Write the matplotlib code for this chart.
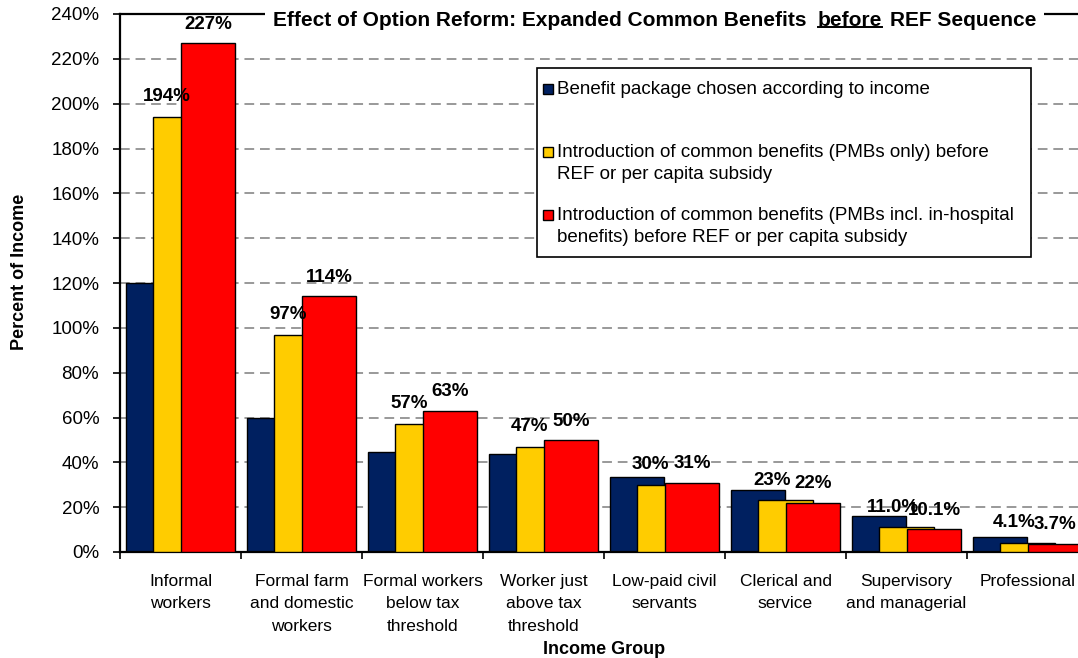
import numpy as np
import matplotlib
matplotlib.use("Agg")
import matplotlib.pyplot as plt
from matplotlib.patches import Rectangle
from matplotlib.lines import Line2D
from matplotlib.text import Annotation

plt.rcParams['font.family'] = ['Liberation Sans', 'DejaVu Sans']

# data
groups = ["Informal\nworkers", "Formal farm\nand domestic\nworkers",
          "Formal workers\nbelow tax\nthreshold", "Worker just\nabove tax\nthreshold",
          "Low-paid civil\nservants", "Clerical and\nservice",
          "Supervisory\nand managerial", "Professional"]
by_income = [120, 60, 44.5, 43.5, 33.5, 27.5, 16.0, 6.6]
pmb_only = [194, 97, 57, 47, 30, 23, 11.0, 4.1]
pmb_hosp = [227, 114, 63, 50, 31, 22, 10.1, 3.7]
series_names = ["Benefit package chosen according to income",
                "Introduction of common benefits (PMBs only) before\nREF or per capita subsidy",
                "Introduction of common benefits (PMBs incl. in-hospital\nbenefits) before REF or per capita subsidy"]
colors = ["#002060", "#FFCC00", "#FF0000"]

W, H = 1078, 658
fig = plt.figure(figsize=(W / 100, H / 100), dpi=100)


def px(x, y):
    # pixel position (from top-left) -> figure fraction
    return x / W, 1 - y / H


ax = fig.add_axes([120 / W, (H - 552) / H, 968 / W, 538 / H])

x = np.arange(len(groups))
step, bw = 0.227, 0.45
for k, (vals, c) in enumerate(zip([by_income, pmb_only, pmb_hosp], colors)):
    ax.bar(x + (k - 1) * step, vals, bw, color=c, edgecolor="black", linewidth=1, zorder=2 + k)


def fmt(v):
    return f"{v:.1f}%" if v < 20 else f"{v:.0f}%"


for i in range(len(groups)):
    ax.annotate(fmt(pmb_only[i]), (x[i] - step / 2, pmb_only[i]), xytext=(0, 8.5),
                textcoords="offset points", ha="center", va="bottom",
                fontsize=13.5, fontweight="bold", zorder=10)
    ax.annotate(fmt(pmb_hosp[i]), (x[i] + step, pmb_hosp[i]), xytext=(0, 7.5),
                textcoords="offset points", ha="center", va="bottom",
                fontsize=13.5, fontweight="bold", zorder=10)

ax.set_xlim(-0.5, len(groups) - 0.5)
ax.set_ylim(0, 240)
ax.set_yticks(np.arange(0, 241, 20))
ax.set_yticklabels([f"{v}%" for v in range(0, 241, 20)], fontsize=13.5)
ax.set_xticks(np.arange(len(groups) + 1) - 0.5)
ax.set_xticklabels([])
ax.set_xticks(x, minor=True)
ax.set_xticklabels(groups, minor=True, fontsize=12.5, linespacing=1.6)
ax.tick_params(axis="x", which="minor", length=0, pad=16)
ax.tick_params(axis="x", which="major", length=5, width=1.2, direction="out")
ax.tick_params(axis="y", length=5, width=1.2, direction="out", pad=10)
ax.grid(axis="y", color="#999999", linestyle=(0, (5, 3)), linewidth=1.4, zorder=0)
ax.set_axisbelow(True)
for s in ["left", "bottom", "top"]:
    ax.spines[s].set_linewidth(1.6)
ax.spines["right"].set_visible(False)

ax.set_ylabel("Percent of Income", fontsize=13, fontweight="bold")
ax.yaxis.set_label_coords(-0.095, 0.52)
ax.set_xlabel("Income Group", fontsize=13, fontweight="bold")
ax.xaxis.set_label_coords(0.5, -0.165)

# title with underlined word, sitting on the top spine
fig.add_artist(Rectangle(px(265, 30), (1044 - 265) / W, 24 / H,
                         facecolor="white", edgecolor="none", zorder=3))
tkw = dict(fontsize=15, fontweight="bold", zorder=4)
t1 = fig.text(*px(273, 20), "Effect of Option Reform: Expanded Common Benefits",
              ha="left", va="center", **tkw)
t2 = Annotation("before", xy=(1, 0), xycoords=t1, xytext=(8, 0), textcoords="offset points",
                ha="left", va="bottom", **tkw)
fig.add_artist(t2)
t3 = Annotation("REF Sequence", xy=(1, 0), xycoords=t2, xytext=(6, 0), textcoords="offset points",
                ha="left", va="bottom", **tkw)
fig.add_artist(t3)

# legend box with markers on the first line of each entry
fig.add_artist(Rectangle(px(537, 257), (1031 - 537) / W, (257 - 68) / H,
                         facecolor="white", edgecolor="black", linewidth=1.2, zorder=5))
for name, c, yy in zip(series_names, colors, [89, 152, 215]):
    fig.add_artist(Rectangle(px(543, yy + 5), 10 / W, 10 / H, facecolor=c,
                             edgecolor="black", linewidth=1, zorder=6))
    fig.text(*px(557, yy - 8), name, ha="left", va="top", fontsize=13.5,
             linespacing=1.4, zorder=6)

fig.canvas.draw()
bb = t2.get_window_extent()
fig.add_artist(Line2D([bb.x0, bb.x1], [bb.y0 + 3, bb.y0 + 3], color="black",
                      linewidth=1.4, transform=None, zorder=7))

fig.savefig("out.png", dpi=100)
